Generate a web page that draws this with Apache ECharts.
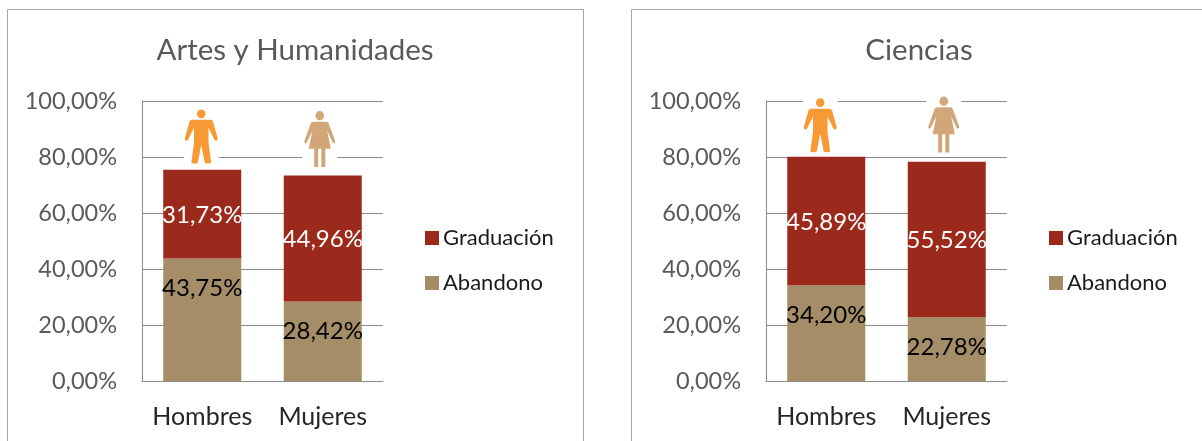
<!DOCTYPE html>
<html><head><meta charset="utf-8">
<style>html,body{margin:0;padding:0;background:#fff}#c{width:1202px;height:441px}</style>
<script src="https://cdn.jsdelivr.net/npm/echarts@6/dist/echarts.min.js"></script>
</head><body><div id="c"></div>
<script>
const categories = ['Hombres', 'Mujeres'];
const panelTitles = ['Artes y Humanidades', 'Ciencias'];
const abandonoArtes = [43.75, 28.42];
const graduacionArtes = [31.73, 44.96];
const abandonoCiencias = [34.20, 22.78];
const graduacionCiencias = [45.89, 55.52];
const iconLevelArtes = [87.3, 86.4];
const iconLevelCiencias = [91.3, 91.6];
const seriesNames = ['Graduación', 'Abandono'];

const FONT = 'Lato';
const malePath = 'path://M50 0a13 13 0 1 1 -0.01 0zM22 31L78 31Q84 31 86 37L100 87Q101 92 96 94Q92 95 90 91L72 55L72 100L80 158Q80 163 74 163L66 163Q61 163 60 158L50 106L40 158Q39 163 34 163L26 163Q20 163 20 158L28 100L28 55L10 91Q8 95 4 94Q-1 92 0 87L14 37Q16 31 22 31Z';
const femalePath = 'path://M50 0a14 14 0 1 1 -0.01 0zM28 32L72 32Q77 32 79 37L100 90Q101 94 97 96Q94 98 92 94L74 60L86 113L68 113L68 168L55 168L55 113L45 113L45 168L32 168L32 113L14 113L26 60L8 94Q6 98 3 96Q-1 94 0 90L21 37Q23 32 28 32Z';

const pct = v => v.toFixed(2).replace('.', ',') + '%';
const grids = [
  { left: 142, top: 101, width: 241, height: 280 },
  { left: 766, top: 101, width: 241, height: 280 }
];
const panels = [
  { ab: abandonoArtes, gr: graduacionArtes, icons: iconLevelArtes, off: [-1, -3] },
  { ab: abandonoCiencias, gr: graduacionCiencias, icons: iconLevelCiencias, off: [-6, -3] }
];
const GRID_COLOR = '#8c8c8c';
const xAxes = [], yAxes = [], series = [], titles = [], legends = [];
panels.forEach((p, i) => {
  xAxes.push({ type: 'category', gridIndex: i, data: categories,
    axisLine: { lineStyle: { color: GRID_COLOR } }, axisTick: { show: false },
    axisLabel: { color: '#262626', fontFamily: FONT, fontSize: 25, margin: 23, interval: 0 } });
  yAxes.push({ type: 'value', gridIndex: i, min: 0, max: 100, interval: 20,
    axisLine: { show: true, lineStyle: { color: GRID_COLOR } }, axisTick: { show: false },
    splitLine: { lineStyle: { color: GRID_COLOR } },
    axisLabel: { color: '#595959', fontFamily: FONT, fontSize: 23.5, margin: 25, formatter: pct } });
  // white halos masking the gridlines behind the figures
  series.push({ type: 'scatter', xAxisIndex: i, yAxisIndex: i, z: 1, silent: true,
    symbol: 'rect', symbolSize: [35, 58],
    data: p.icons.map((v, k) => ({ value: [k, v], symbolOffset: [p.off[k], 0] })),
    itemStyle: { color: '#fff', opacity: 1 } });
  series.push({ name: seriesNames[1], type: 'bar', stack: 's' + i, xAxisIndex: i, yAxisIndex: i, z: 2,
    barWidth: 78, data: p.ab, itemStyle: { color: '#A58D68' },
    label: { show: true, position: 'insideTop', distance: 18, color: '#000', fontFamily: FONT, fontSize: 24,
      formatter: o => pct(o.value) } });
  series.push({ name: seriesNames[0], type: 'bar', stack: 's' + i, xAxisIndex: i, yAxisIndex: i, z: 2,
    barWidth: 78, data: p.gr, itemStyle: { color: '#9C2A1C' },
    label: { show: true, position: 'inside', offset: [0, 1], color: '#fff', fontFamily: FONT, fontSize: 24,
      formatter: o => pct(o.value) } });
  series.push({ type: 'scatter', xAxisIndex: i, yAxisIndex: i, z: 3, silent: true,
    data: [
      { value: [0, p.icons[0]], symbol: malePath, symbolSize: [33, 54], symbolOffset: [p.off[0], 0], itemStyle: { color: '#F79A35', opacity: 1 } },
      { value: [1, p.icons[1]], symbol: femalePath, symbolSize: [31, 56], symbolOffset: [p.off[1], 0], itemStyle: { color: '#D2A679', opacity: 1 } }
    ] });
  const cx = grids[i].left + 153 - 5;
  titles.push({ text: panelTitles[i], left: cx, top: 30, textAlign: 'center',
    textStyle: { color: '#595959', fontFamily: FONT, fontSize: 29.5, fontWeight: 'normal' } });
  legends.push({ orient: 'vertical', left: grids[i].left + 278, top: 222, itemWidth: 14, itemHeight: 14, itemGap: 23,
    data: seriesNames, icon: 'rect', selectedMode: false,
    textStyle: { color: '#1a1a1a', fontFamily: FONT, fontSize: 22, padding: [0, 0, 0, -1] } });
});

const chart = echarts.init(document.getElementById('c'), null, { renderer: 'canvas' });
chart.setOption({
  animation: false,
  backgroundColor: '#fff',
  title: titles, legend: legends, grid: grids, xAxis: xAxes, yAxis: yAxes, series,
  graphic: [
    { type: 'rect', z: -1, shape: { x: 7.5, y: 9.5, width: 576, height: 500 }, style: { fill: 'none', stroke: '#a6a6a6', lineWidth: 1 } },
    { type: 'rect', z: -1, shape: { x: 631.5, y: 9.5, width: 700, height: 500 }, style: { fill: 'none', stroke: '#a6a6a6', lineWidth: 1 } }
  ]
});
</script></body></html>
